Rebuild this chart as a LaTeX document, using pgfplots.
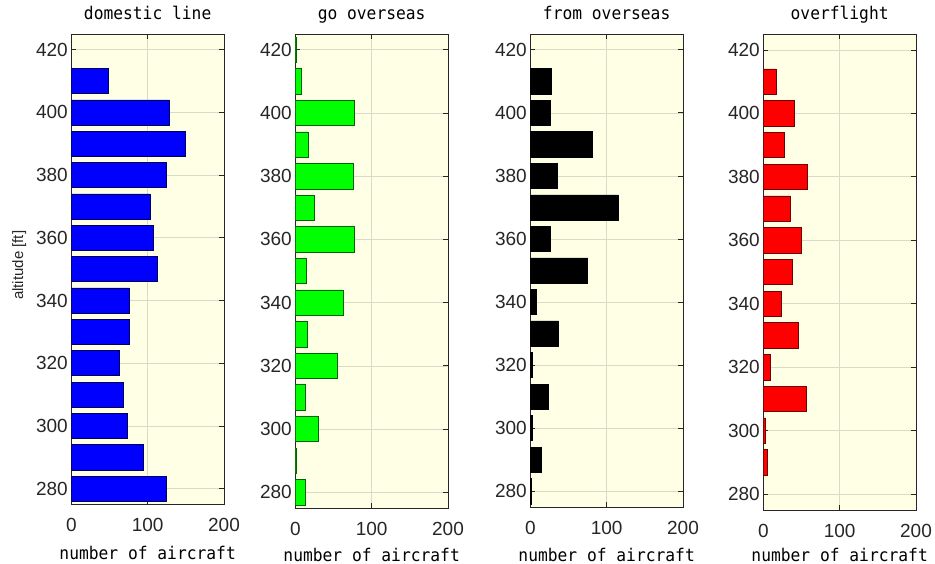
\documentclass[border=0pt]{standalone}
\usepackage{fontspec}
\setmainfont{Liberation Sans}
\newfontfamily\gothic[FakeStretch=0.93]{DejaVu Sans Mono}
\usepackage{pgfplots}
\pgfplotsset{compat=1.18}
\definecolor{bgy}{RGB}{255,255,230}
\definecolor{gridc}{RGB}{218,218,200}
\definecolor{axc}{RGB}{38,38,38}
\definecolor{cblue}{RGB}{0,0,255}
\definecolor{eblue}{RGB}{0,0,90}
\definecolor{cgreen}{RGB}{0,255,0}
\definecolor{egreen}{RGB}{0,100,0}
\definecolor{cred}{RGB}{255,0,0}
\definecolor{ered}{RGB}{110,0,0}
\pgfplotsset{
 panel/.style={
  scale only axis, width=152.7pt,
  xmin=0,xmax=200,ymin=275,ymax=425,
  xtick={0,100,200}, ytick={280,300,...,420},
  tick align=inside, major tick length=5pt,
  grid=major, major grid style={gridc, line width=0.6pt},
  axis background/.style={fill=bgy},
  axis line style={axc, line width=0.9pt},
  tick style={axc, line width=0.7pt},
  ticklabel style={font=\fontsize{19}{19}\selectfont, text=axc},
  xticklabel style={anchor=base, yshift=-27pt},
  /pgf/number format/assume math mode=true,
  title style={font=\gothic\fontsize{17.5}{17.5}\selectfont, text=black,
    at={(0.5,1)}, anchor=base, yshift=8pt},
  xlabel={number of aircraft},
  anchor=north west,
  bar width=8,
 },
 xl/.style={xlabel style={font=\gothic\fontsize{17.5}{17.5}\selectfont, text=black,
    at={(0.5,0)}, anchor=base, yshift=#1}},
}
\begin{document}
\begin{tikzpicture}
\path[use as bounding box] (0,0) rectangle (935pt,-564pt);
\begin{axis}[panel, at={(71.3pt,-34pt)}, height=470.3pt, title={domestic line}, xl=-55pt,
  ylabel={altitude [ft]}, ylabel style={font=\fontsize{15}{15}\selectfont, text=axc,
  at={(axis description cs:-0.316,0.508)}, anchor=base}]
\addplot[xbar, fill=cblue, draw=eblue, line width=0.6pt] coordinates {
(48,410) (128,400) (149,390) (124,380) (103,370) (108,360) (112,350)
(76,340) (76,330) (63,320) (68,310) (74,300) (94,290) (125,280)};
\end{axis}
\begin{axis}[panel, at={(295.3pt,-34pt)}, height=474pt, title={go overseas}, xl=-53pt]
\addplot[xbar, fill=cgreen, draw=egreen, line width=0.6pt] coordinates {
(1,420) (8,410) (77,400) (17,390) (76,380) (25,370) (77,360) (15,350)
(63,340) (16,330) (55,320) (13,310) (30,300) (1,290) (13,280)};
\end{axis}
\begin{axis}[panel, at={(530.3pt,-34pt)}, height=473pt, title={from overseas}, xl=-54pt]
\addplot[xbar, fill=black, draw=black, line width=0.6pt] coordinates {
(27,410) (26,400) (81,390) (36,380) (115,370) (26,360) (75,350)
(8,340) (37,330) (2,320) (23,310) (2,300) (14,290) (1,280)};
\end{axis}
\begin{axis}[panel, at={(763.3pt,-34pt)}, height=476pt, title={overflight}, xl=-51pt]
\addplot[xbar, fill=cred, draw=ered, line width=0.6pt] coordinates {
(17,410) (41,400) (27,390) (57,380) (36,370) (50,360) (38,350)
(24,340) (46,330) (9,320) (56,310) (3,300) (5,290)};
\end{axis}
\end{tikzpicture}
\end{document}
